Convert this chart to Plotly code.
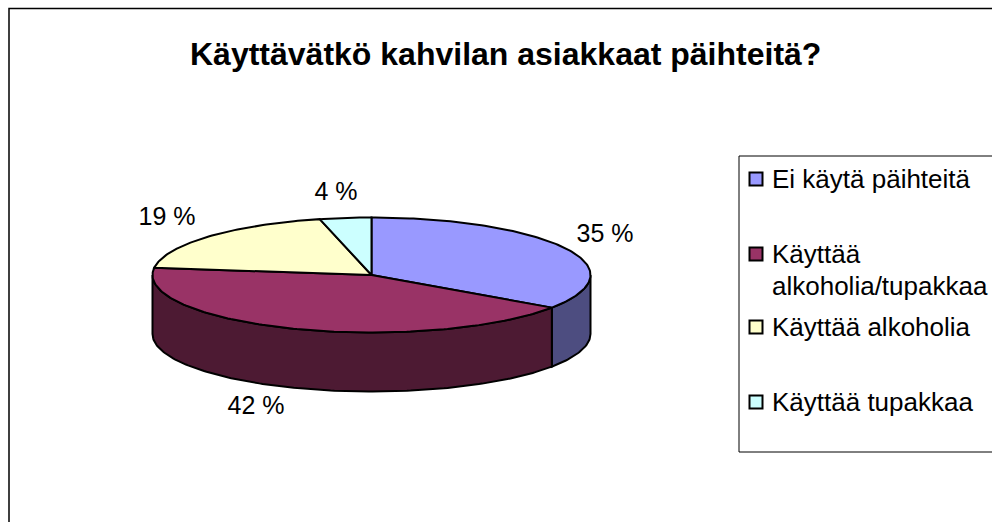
"""Pseudo-3D pie chart, slices built from the values on pixel-scaled axes."""

import numpy as np
import plotly.graph_objects as go

# data
categories = ["Ei käytä päihteitä", "Käyttää alkoholia/tupakkaa", "Käyttää alkoholia", "Käyttää tupakkaa"]
shares = [34.6, 42.4, 19.2, 3.8]
top_colors = ["#9999ff", "#993366", "#ffffcc", "#ccffff"]
side_colors = ["#4d4d80", "#4d1a33", "#808066", "#668080"]
legend_rows = [["Ei käytä päihteitä"], ["Käyttää", "alkoholia/tupakkaa"], ["Käyttää alkoholia"], ["Käyttää tupakkaa"]]
title_text = "Käyttävätkö kahvilan asiakkaat päihteitä?"

# layout, in pixels of the 992x522 window
W, H = 992, 522
CX, CY, RX, RY, DEPTH = 371.5, 275, 219, 57.5, 59
FONT = "Liberation Sans"
label_pos = [(605, 236), (256, 408), (167, 219), (336, 194)]
legend_y = [179, 254, 327, 402]


def arc(start, end, cy=CY):
    # angles in degrees, clockwise from twelve o'clock
    t = np.radians(np.linspace(start, end, max(int(abs(end - start)), 2) + 1))
    return CX + RX * np.sin(t), cy - RY * np.cos(t)


fig = go.Figure()

edges = np.concatenate([[0], np.cumsum(shares)]) * 3.6

# side walls: only the front half of the rim is visible
for i in range(len(shares)):
    start, end = max(edges[i], 90), min(edges[i + 1], 270)
    if start >= end:
        continue
    x1, y1 = arc(start, end)
    x2, y2 = arc(end, start, CY + DEPTH)
    fig.add_trace(go.Scatter(
        x=np.concatenate([x1, x2, x1[:1]]), y=np.concatenate([y1, y2, y1[:1]]),
        mode="lines", fill="toself", fillcolor=side_colors[i],
        line=dict(color="black", width=2), hoverinfo="skip",
    ))

# top faces
for i in range(len(shares)):
    x1, y1 = arc(edges[i], edges[i + 1])
    fig.add_trace(go.Scatter(
        x=np.concatenate([[CX], x1, [CX]]), y=np.concatenate([[CY], y1, [CY]]),
        mode="lines", fill="toself", fillcolor=top_colors[i],
        line=dict(color="black", width=2), hoverinfo="skip",
    ))

# percent labels
fig.add_trace(go.Scatter(
    x=[p[0] for p in label_pos], y=[p[1] for p in label_pos],
    mode="text", text=[f"{round(s)} %" for s in shares],
    textposition="middle center", textfont=dict(family=FONT, size=25, color="black"),
    hoverinfo="skip",
))

# legend swatches
fig.add_trace(go.Scatter(
    x=[756] * len(categories), y=legend_y, mode="markers",
    marker=dict(symbol="square", size=13, color=top_colors, line=dict(color="black", width=2)),
    hovertext=categories, hoverinfo="text",
))

shapes = [
    dict(type="rect", x0=9, y0=8.5, x1=W + 20, y1=H + 20, line=dict(color="black", width=1.5), layer="below"),
    dict(type="rect", x0=739, y0=156, x1=W + 20, y1=452, line=dict(color="black", width=1), layer="below"),
]

annotations = [
    dict(x=505, y=54, text=f"<b>{title_text}</b>", showarrow=False,
         font=dict(family=FONT, size=32, color="black")),
]
for y, row in zip(legend_y, legend_rows):
    for j, line in enumerate(row):
        annotations.append(dict(x=770, y=y + j * 32, text=line, showarrow=False, xanchor="left",
                                font=dict(family=FONT, size=26, color="black")))

fig.update_layout(
    width=W, height=H, margin=dict(l=0, r=0, t=0, b=0), showlegend=False,
    paper_bgcolor="white", plot_bgcolor="white",
    xaxis=dict(range=[0, W], visible=False, fixedrange=True),
    yaxis=dict(range=[H, 0], visible=False, fixedrange=True),
    shapes=shapes, annotations=annotations,
)

# the page body would otherwise push the figure 8px right and down
fig.write_html("out.html", config={"displayModeBar": False}, post_script="document.body.style.margin = '0';")
